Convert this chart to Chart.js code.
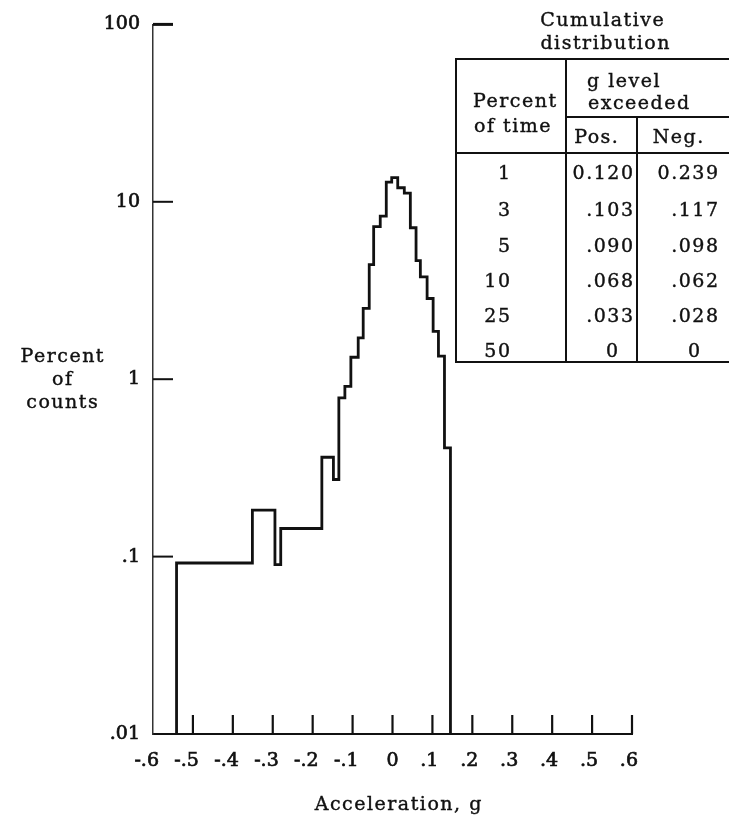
<!DOCTYPE html>
<html><head><meta charset="utf-8">
<script src="https://cdn.jsdelivr.net/npm/chart.js@4"></script>
<style>
html,body{margin:0;padding:0;background:#fff;}
#wrap{position:relative;width:729px;height:821px;overflow:hidden;background:#fff;}
#c{position:absolute;left:0;top:0;}
.t{position:absolute;font-family:'DejaVu Serif',serif;font-size:19px;letter-spacing:1.5px;color:#111;white-space:nowrap;line-height:24px;height:24px;-webkit-text-stroke:0.4px #111;}
.ln{position:absolute;background:#111;}
</style></head><body>
<div id="wrap"><canvas id="c" width="729" height="821"></canvas></div>
<script>
// ---- data ----
const binEdges = [-0.541, -0.351, -0.2945, -0.280, -0.177, -0.148, -0.1344, -0.1193, -0.1043, -0.0859,
  -0.0734, -0.0583, -0.0472, -0.0307, -0.0156, -0.0020, 0.0131, 0.0296, 0.0447, 0.0590,
  0.0698, 0.0867, 0.1018, 0.1151, 0.1302, 0.1452];
const binPercent = [0.092, 0.183, 0.090, 0.144, 0.363, 0.272, 0.784, 0.91, 1.33, 1.71,
  2.51, 4.43, 7.24, 8.3, 12.9, 13.7, 12.0, 11.2, 7.14, 4.66,
  3.77, 2.85, 1.86, 1.35, 0.41];
const baselinePercent = 0.01;
const xTickValues = [-0.6, -0.5, -0.4, -0.3, -0.2, -0.1, 0, 0.1, 0.2, 0.3, 0.4, 0.5, 0.6];
const xTickLabels = ['-.6', '-.5', '-.4', '-.3', '-.2', '-.1', '0', '.1', '.2', '.3', '.4', '.5', '.6'];
const yTickValues = [0.01, 0.1, 1, 10, 100];
const yTickLabels = ['.01', '.1', '1', '10', '100'];
const tablePercentTime = ['1', '3', '5', '10', '25', '50'];
const tablePos = ['0.120', '.103', '.090', '.068', '.033', '0'];
const tableNeg = ['0.239', '.117', '.098', '.062', '.028', '0'];

// ---- histogram outline built from bins ----
const pts = [{x: binEdges[0], y: baselinePercent}];
binPercent.forEach((v, i) => pts.push({x: binEdges[i], y: v}));
pts.push({x: binEdges[binEdges.length - 1], y: baselinePercent});

const inwardTicks = {
  id: 'inwardTicks',
  afterDraw(chart) {
    const {ctx, chartArea: a, scales: {x, y}} = chart;
    ctx.save();
    ctx.strokeStyle = '#111';
    ctx.lineCap = 'butt';
    yTickValues.forEach((v, i) => {
      if (i === 0) return;
      const py = y.getPixelForValue(v);
      ctx.lineWidth = (i === yTickValues.length - 1) ? 3 : 2;
      ctx.beginPath(); ctx.moveTo(a.left, py); ctx.lineTo(a.left + 20, py); ctx.stroke();
    });
    xTickValues.forEach((v, i) => {
      if (i === 0) return;
      const px = x.getPixelForValue(v);
      ctx.lineWidth = 2.2;
      ctx.beginPath(); ctx.moveTo(px, a.bottom); ctx.lineTo(px, a.bottom - 19); ctx.stroke();
    });
    ctx.restore();
  }
};

const tickFont = {family: 'DejaVu Serif', size: 19};
new Chart(document.getElementById('c'), {
  type: 'line',
  data: {datasets: [{data: pts, stepped: true, borderColor: '#111', borderWidth: 2.8,
    pointRadius: 0, fill: false, borderJoinStyle: 'miter', clip: false}]},
  options: {
    responsive: false, animation: false,
    layout: {padding: {top: 17, right: 97, bottom: 0, left: 0}},
    plugins: {legend: {display: false}, tooltip: {enabled: false}},
    scales: {
      x: {
        type: 'linear', min: -0.6, max: 0.6,
        afterBuildTicks: s => { s.ticks = xTickValues.map(v => ({value: v})); },
        afterFit: s => { s.height = 87; },
        grid: {display: false, drawTicks: false},
        border: {display: true, color: '#111', width: 2},
        ticks: {autoSkip: false, maxRotation: 0, minRotation: 0, align: 'end', labelOffset: 6,
          padding: 16, color: '#111', textStrokeColor: '#111', textStrokeWidth: 0.7,
          font: tickFont, callback: (v, i) => xTickLabels[i]}
      },
      y: {
        type: 'logarithmic', min: 0.01, max: 100,
        afterBuildTicks: s => { s.ticks = yTickValues.map(v => ({value: v})); },
        afterFit: s => { s.width = 153; },
        grid: {display: false, drawTicks: false},
        border: {display: true, color: '#333', width: 1.5},
        ticks: {padding: 13, color: '#111', textStrokeColor: '#111', textStrokeWidth: 0.7,
          font: tickFont, callback: (v, i) => yTickLabels[i]}
      }
    }
  },
  plugins: [inwardTicks]
});

// ---- text overlays & table ----
const wrap = document.getElementById('wrap');
function addText(txt, x, cy, align) {
  const d = document.createElement('div');
  d.className = 't';
  d.textContent = txt;
  d.style.top = (cy - 12) + 'px';
  if (align === 'left') d.style.left = x + 'px';
  else if (align === 'right') d.style.right = (729 - x - 1.5) + 'px';
  else { d.style.left = (x - 200 + 0.75) + 'px'; d.style.width = '400px'; d.style.textAlign = 'center'; }
  wrap.appendChild(d);
}
function addLine(x, y, w, h) {
  const d = document.createElement('div');
  d.className = 'ln';
  Object.assign(d.style, {left: x + 'px', top: y + 'px', width: w + 'px', height: h + 'px'});
  wrap.appendChild(d);
}

// axis titles
addText('Percent', 62, 355, 'center');
addText('of', 62, 378, 'center');
addText('counts', 62, 401, 'center');
addText('Acceleration, g', 398, 803, 'center');

// table title
addText('Cumulative', 602, 19, 'center');
addText('distribution', 605, 42, 'center');

// table lines
addLine(455, 58, 290, 2);
addLine(455, 58, 2, 305);
addLine(455, 361, 290, 2);
addLine(565, 58, 2, 305);
addLine(565, 116, 180, 2);
addLine(636, 116, 2, 247);
addLine(455, 152, 290, 2);

// table header
addText('Percent', 473, 100, 'left');
addText('of time', 474, 125, 'left');
addText('g level', 587, 80, 'left');
addText('exceeded', 588, 102, 'left');
addText('Pos.', 596, 136, 'center');
addText('Neg.', 678, 136, 'center');

// table body
const rowCY = [172, 209, 245, 280, 315, 350];
tablePercentTime.forEach((p, i) => {
  addText(p, 510, rowCY[i], 'right');
  if (tablePos[i] === '0') addText(tablePos[i], 612, rowCY[i], 'center');
  else addText(tablePos[i], 633, rowCY[i], 'right');
  if (tableNeg[i] === '0') addText(tableNeg[i], 694, rowCY[i], 'center');
  else addText(tableNeg[i], 718, rowCY[i], 'right');
});
</script>
</body></html>
